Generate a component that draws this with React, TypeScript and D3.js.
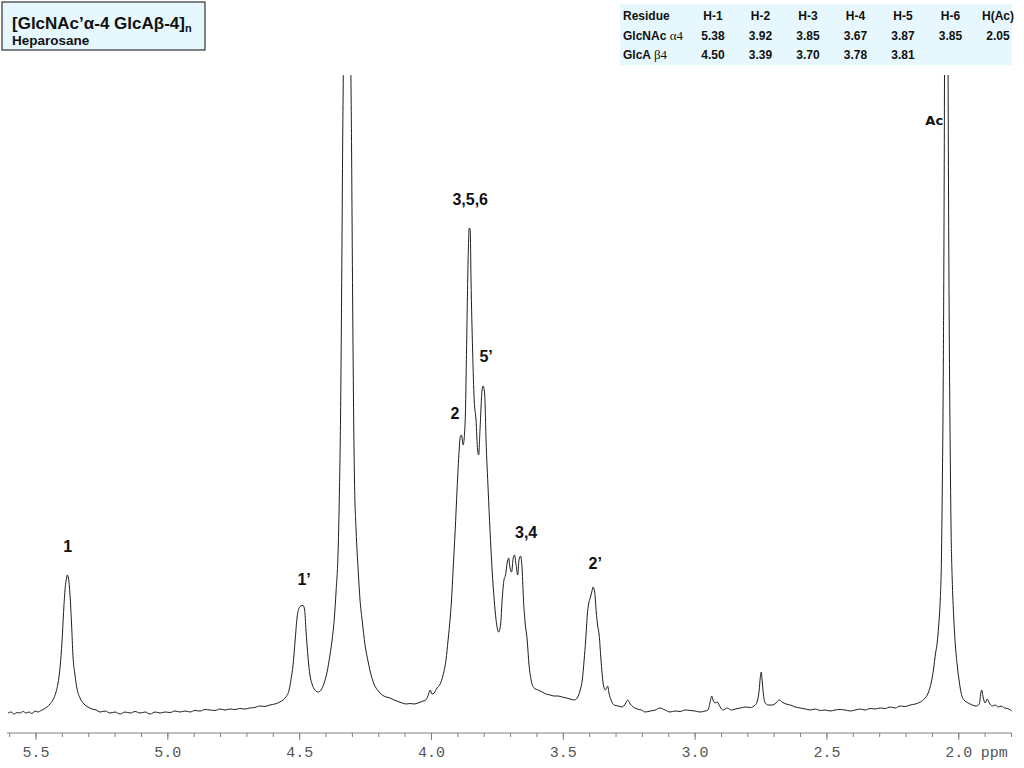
import { useRef, useEffect } from "react";
import * as d3 from "d3";

// 1H NMR of heparosan, [ppm, intensity a.u.]
const spectrum: [number, number][] = [
  [5.606, 0], [5.595, 1], [5.583, -1], [5.572, 0.5], [5.561, 0], [5.549, 1.5], [5.538, 0], [5.527, 1],
  [5.515, -0.5], [5.504, 2], [5.492, 1], [5.481, 2.5], [5.47, 4], [5.458, 6], [5.447, 9], [5.436, 13],
  [5.424, 21], [5.417, 29], [5.409, 45], [5.401, 73], [5.396, 98], [5.39, 123], [5.384, 135], [5.381, 138],
  [5.377, 135], [5.371, 118], [5.365, 88], [5.36, 58], [5.352, 38], [5.345, 25], [5.333, 15], [5.318, 9],
  [5.303, 6], [5.288, 4], [5.272, 3], [5.257, 1], [5.238, 2], [5.219, 0], [5.2, 1], [5.181, -1],
  [5.162, 1], [5.143, 0], [5.124, 1.5], [5.105, 0], [5.086, 1], [5.067, -1], [5.048, 1], [5.029, 0],
  [5.011, 1], [4.992, 0.5], [4.973, 2], [4.954, 1], [4.935, 2], [4.916, 1], [4.897, 2.5], [4.878, 2],
  [4.859, 3.5], [4.84, 3], [4.821, 2.5], [4.802, 4], [4.783, 3], [4.764, 4], [4.746, 3.5], [4.727, 4.5],
  [4.708, 4], [4.689, 5], [4.67, 5.5], [4.651, 7], [4.632, 6.5], [4.613, 8], [4.594, 9], [4.575, 11],
  [4.563, 13], [4.552, 16], [4.54, 23], [4.533, 33], [4.525, 48], [4.517, 73], [4.51, 95], [4.502, 105],
  [4.495, 107], [4.487, 107.5], [4.481, 103], [4.476, 83], [4.468, 55], [4.461, 38], [4.453, 29], [4.442, 23],
  [4.43, 21], [4.419, 23], [4.407, 30], [4.396, 41], [4.385, 58], [4.377, 73], [4.369, 93], [4.362, 121],
  [4.354, 163], [4.349, 223], [4.345, 293], [4.341, 413], [4.337, 563], [4.333, 700], [4.328, 1100], [4.32, 1600],
  [4.312, 1100], [4.307, 700], [4.303, 563], [4.299, 413], [4.295, 293], [4.292, 233], [4.286, 183], [4.278, 143],
  [4.271, 113], [4.263, 93], [4.252, 68], [4.24, 51], [4.229, 38], [4.218, 29], [4.202, 22], [4.187, 18],
  [4.172, 16], [4.157, 15], [4.142, 13], [4.127, 11.5], [4.111, 10], [4.096, 9], [4.081, 9.5], [4.066, 9],
  [4.051, 10], [4.036, 11.5], [4.02, 13.5], [4.011, 19], [4.005, 23], [3.998, 19], [3.99, 20], [3.979, 25],
  [3.967, 29], [3.956, 38], [3.945, 53], [3.937, 73], [3.929, 95], [3.924, 113], [3.918, 143], [3.91, 183],
  [3.903, 223], [3.895, 263], [3.891, 276], [3.886, 278], [3.88, 268], [3.872, 293], [3.867, 363], [3.861, 453],
  [3.857, 485], [3.853, 483], [3.85, 433], [3.844, 363], [3.838, 313], [3.831, 293], [3.825, 263], [3.821, 258],
  [3.816, 283], [3.808, 323], [3.804, 327], [3.798, 318], [3.793, 273], [3.785, 223], [3.778, 183], [3.77, 143],
  [3.762, 113], [3.755, 93], [3.745, 81], [3.738, 88], [3.732, 113], [3.725, 133], [3.719, 138], [3.713, 150],
  [3.707, 155], [3.702, 145], [3.696, 141], [3.69, 155], [3.685, 158], [3.679, 148], [3.673, 138], [3.668, 153],
  [3.662, 157], [3.656, 143], [3.651, 113], [3.645, 91], [3.637, 73], [3.63, 48], [3.622, 33], [3.611, 25],
  [3.595, 23], [3.58, 21], [3.565, 19], [3.55, 18], [3.535, 17], [3.52, 17], [3.504, 16], [3.489, 15],
  [3.474, 14], [3.459, 13], [3.447, 15], [3.436, 23], [3.428, 33], [3.421, 53], [3.415, 73], [3.409, 98],
  [3.404, 109], [3.398, 115], [3.392, 121], [3.387, 126], [3.381, 121], [3.375, 101], [3.37, 88], [3.364, 78],
  [3.357, 53], [3.349, 30], [3.341, 23], [3.336, 25], [3.332, 27], [3.326, 19], [3.319, 13], [3.307, 8],
  [3.292, 7], [3.277, 6], [3.265, 9], [3.256, 13], [3.246, 9], [3.235, 6], [3.22, 4], [3.204, 3],
  [3.189, 1], [3.17, 2], [3.151, 3], [3.133, 5], [3.114, 3], [3.095, 1], [3.076, 2], [3.057, 1.5],
  [3.038, 3], [3.019, 2.5], [3.0, 2], [2.981, 1], [2.962, 2], [2.951, 3], [2.943, 11], [2.937, 17],
  [2.932, 13], [2.924, 10], [2.916, 11], [2.905, 6], [2.894, 3], [2.878, 5], [2.863, 3], [2.848, 4],
  [2.829, 5], [2.81, 6], [2.791, 5.5], [2.772, 8], [2.763, 13], [2.757, 23], [2.753, 35], [2.749, 41],
  [2.746, 33], [2.742, 21], [2.734, 10], [2.723, 8], [2.708, 8], [2.693, 10], [2.681, 13], [2.67, 11],
  [2.655, 9], [2.639, 8], [2.62, 6], [2.601, 5], [2.582, 4], [2.563, 3], [2.544, 4], [2.525, 2.5],
  [2.507, 3], [2.488, 2], [2.469, 3], [2.45, 3.5], [2.431, 3], [2.412, 2], [2.393, 3], [2.374, 4],
  [2.355, 3], [2.336, 4.5], [2.317, 4], [2.298, 5], [2.279, 4.5], [2.26, 6], [2.241, 5], [2.222, 7],
  [2.203, 6.5], [2.184, 8], [2.165, 9], [2.146, 11], [2.131, 14], [2.116, 20], [2.104, 31], [2.095, 45],
  [2.089, 58], [2.082, 70], [2.076, 88], [2.07, 115], [2.066, 150], [2.063, 213], [2.059, 330], [2.055, 560],
  [2.051, 1000], [2.048, 1400], [2.044, 1000], [2.04, 600], [2.036, 380], [2.032, 250], [2.029, 180], [2.025, 135],
  [2.019, 95], [2.013, 68], [2.006, 48], [1.998, 31], [1.991, 20], [1.98, 13], [1.964, 10], [1.949, 8],
  [1.934, 7], [1.922, 9], [1.917, 19], [1.913, 23], [1.907, 15], [1.9, 10], [1.892, 14], [1.884, 10],
  [1.873, 7], [1.862, 8], [1.85, 6], [1.839, 7], [1.827, 5], [1.816, 4.5], [1.804, 3], [1.799, 2],
];

// peak assignments: [label, ppm, label height]
const peakLabels: [string, number, number][] = [
  ["1", 5.38, 161],
  ["1\u2019", 4.483, 128],
  ["2", 3.911, 294],
  ["3,5,6", 3.853, 508],
  ["5\u2019", 3.793, 351],
  ["3,4", 3.641, 175],
  ["2\u2019", 3.379, 144],
];

const majorTicks = [5.5, 5.0, 4.5, 4.0, 3.5, 3.0, 2.5, 2.0];
const tickLabels = ["5.5", "5.0", "4.5", "4.0", "3.5", "3.0", "2.5", "2.0"];

const tableHeader = ["H-1", "H-2", "H-3", "H-4", "H-5", "H-6", "H(Ac)"];
const glcnacShifts = ["5.38", "3.92", "3.85", "3.67", "3.87", "3.85", "2.05"];
const glcaShifts = ["4.50", "3.39", "3.70", "3.78", "3.81"];

const W = 1024;
const H = 768;
const BOX_FILL = "#e6f8fd";

export default function App() {
  const svgRef = useRef<SVGSVGElement>(null);

  useEffect(() => {
    if (!svgRef.current) return;
    const svg = d3.select(svgRef.current);
    svg.selectAll("*").remove();

    const x = d3.scaleLinear().domain([5.61, 1.8]).range([7, 1011.5]);
    const y = d3.scaleLinear().domain([0, 638]).range([713, 75]);
    const axisY = 733;

    // title box
    svg.append("rect")
      .attr("x", 2).attr("y", 2).attr("width", 203).attr("height", 48)
      .attr("fill", BOX_FILL).attr("stroke", "#333").attr("stroke-width", 1.2);
    const title = svg.append("text")
      .attr("x", 12).attr("y", 29)
      .style("font-family", "Liberation Sans, Arial, sans-serif")
      .style("font-weight", "bold").style("font-size", "17px").style("fill", "#111");
    title.append("tspan").text("[GlcNAc\u2019\u03b1-4 GlcA\u03b2-4]");
    title.append("tspan").attr("dy", 3).style("font-size", "11px").text("n");
    svg.append("text")
      .attr("x", 12).attr("y", 45)
      .style("font-family", "Liberation Sans, Arial, sans-serif")
      .style("font-weight", "bold").style("font-size", "13.5px").style("fill", "#111")
      .text("Heparosane");

    // shift table
    svg.append("rect")
      .attr("x", 620).attr("y", 4).attr("width", 392).attr("height", 61)
      .attr("fill", BOX_FILL);
    const col = d3.scalePoint<string>().domain(tableHeader).range([713, 998]);
    const rowY = [20, 40, 59];
    const tbl = svg.append("g")
      .style("font-family", "Liberation Sans, Arial, sans-serif")
      .style("font-weight", "bold").style("font-size", "12px").style("fill", "#111");
    tbl.append("text").attr("x", 623).attr("y", rowY[0]).text("Residue");
    const r2 = tbl.append("text").attr("x", 623).attr("y", rowY[1]);
    r2.append("tspan").text("GlcNAc ");
    r2.append("tspan").style("font-family", "Liberation Serif, serif").style("font-weight", "normal").style("font-size", "13px").text("\u03b14");
    const r3 = tbl.append("text").attr("x", 623).attr("y", rowY[2]);
    r3.append("tspan").text("GlcA ");
    r3.append("tspan").style("font-family", "Liberation Serif, serif").style("font-weight", "normal").style("font-size", "13px").text("\u03b24");
    [tableHeader, glcnacShifts, glcaShifts].forEach((row, ri) => {
      tbl.append("g").selectAll("text").data(row).join("text")
        .attr("x", (_, i) => col(tableHeader[i]) || 0)
        .attr("y", rowY[ri])
        .attr("text-anchor", "middle")
        .text((d) => d);
    });

    // spectrum
    svg.append("clipPath").attr("id", "plot-clip")
      .append("rect").attr("x", 0).attr("y", 75).attr("width", W).attr("height", 660);
    const line = d3.line<[number, number]>()
      .x((d) => x(d[0]))
      .y((d) => y(d[1]))
      .curve(d3.curveMonotoneX);
    svg.append("path")
      .datum(spectrum)
      .attr("clip-path", "url(#plot-clip)")
      .attr("fill", "none")
      .attr("stroke", "#1e1e1e")
      .attr("stroke-width", 1)
      .attr("d", line);

    // peak labels
    const lab = svg.append("g")
      .style("font-family", "Liberation Sans, Arial, sans-serif")
      .style("font-weight", "bold").style("font-size", "16px").style("fill", "#111");
    lab.selectAll("text").data(peakLabels).join("text")
      .attr("x", (d) => x(d[1]))
      .attr("y", (d) => y(d[2]))
      .attr("text-anchor", "middle")
      .text((d) => d[0]);
    svg.append("text")
      .attr("x", x(2.093)).attr("y", y(588))
      .attr("text-anchor", "middle")
      .style("font-family", "DejaVu Sans, sans-serif")
      .style("font-weight", "bold").style("font-size", "13px").style("fill", "#111")
      .text("Ac");

    // ppm axis
    const ax = svg.append("g").attr("stroke", "#808080").attr("stroke-width", 1);
    ax.append("line").attr("x1", x(5.61)).attr("x2", x(1.8)).attr("y1", axisY).attr("y2", axisY);
    const minor = d3.range(18, 57).map((v) => v / 10);
    ax.selectAll("line.minor").data(minor).join("line").attr("class", "minor")
      .attr("x1", (d) => x(d)).attr("x2", (d) => x(d))
      .attr("y1", axisY).attr("y2", axisY + 4);
    ax.selectAll("line.major").data(majorTicks).join("line").attr("class", "major")
      .attr("x1", (d) => x(d)).attr("x2", (d) => x(d))
      .attr("y1", axisY).attr("y2", axisY + 7);
    const tl = svg.append("g")
      .style("font-family", "Liberation Mono, Courier New, monospace")
      .style("font-size", "15px").style("fill", "#555");
    tl.selectAll("text").data(majorTicks).join("text")
      .attr("x", (d) => x(d))
      .attr("y", 757)
      .attr("text-anchor", "middle")
      .text((_, i) => tickLabels[i]);
    tl.append("text").attr("x", x(2.0) + 22).attr("y", 757).text("ppm");
  }, []);

  return (
    <div style={{ position: "absolute", left: 0, top: 0, background: "#fff" }}>
      <svg ref={svgRef} width={W} height={H} style={{ display: "block" }} />
    </div>
  );
}
